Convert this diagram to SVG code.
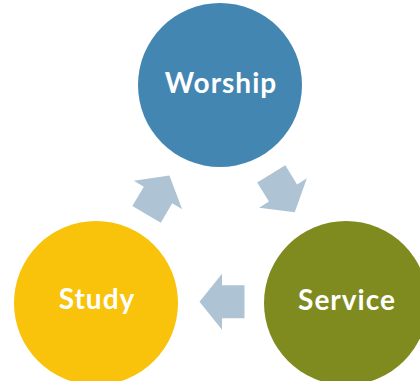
<svg xmlns="http://www.w3.org/2000/svg" width="420" height="381" viewBox="0 0 420 381">
<style>
.lbl{font-family:Lato,"Open Sans","Liberation Sans",sans-serif;font-weight:bold;font-size:28px;letter-spacing:1px;fill:#ffffff;text-anchor:middle}
.arr{fill:#AEC3D3}
</style>
<defs>
<polygon id="arrow" points="-22.5,-16.5 0,-16.5 0,-28 22.5,0 0,28 0,16.5 -22.5,16.5"/>
</defs>
<rect width="420" height="381" fill="#ffffff"/>
<g id="connectors">
<use href="#arrow" class="arr" transform="translate(158,195) rotate(-59.5)"/>
<use href="#arrow" class="arr" transform="translate(283,193) rotate(58.5)"/>
<use href="#arrow" class="arr" transform="translate(222,301.7) rotate(180)"/>
</g>
<g id="worship">
<circle cx="220" cy="85" r="82" fill="#4386B2"/>
<text class="lbl" x="221" y="93">Worship</text>
</g>
<g id="study">
<circle cx="96" cy="303" r="82" fill="#F9C20B"/>
<text class="lbl" x="97" y="309">Study</text>
</g>
<g id="service">
<circle cx="346" cy="303" r="82" fill="#7F8A1F"/>
<text class="lbl" x="347" y="310">Service</text>
</g>
</svg>
